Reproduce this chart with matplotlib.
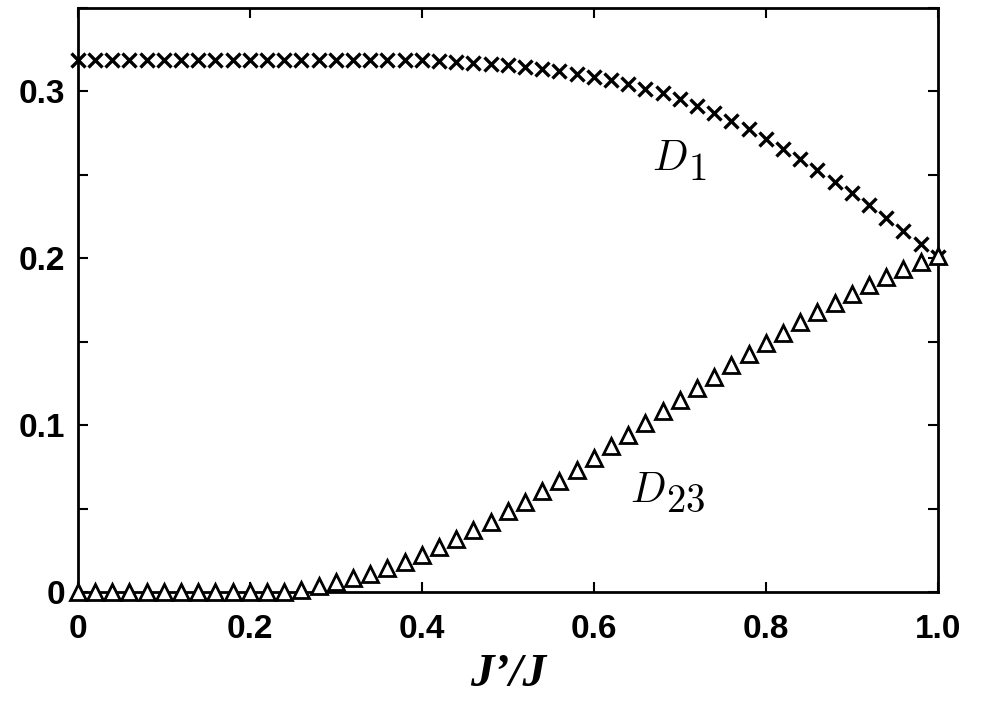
import matplotlib
matplotlib.use('Agg')
import matplotlib.pyplot as plt
from matplotlib.ticker import MultipleLocator

plt.rcParams['mathtext.fontset'] = 'cm'

# J'/J values
ratio = [i / 50 for i in range(51)]

d1 = [0.3190, 0.3190, 0.3190, 0.3190, 0.3190, 0.3190, 0.3190, 0.3190, 0.3190, 0.3190,
      0.3190, 0.3190, 0.3190, 0.3190, 0.3190, 0.3190, 0.3190, 0.3189, 0.3188, 0.3187,
      0.3185, 0.3182, 0.3178, 0.3172, 0.3165, 0.3157, 0.3147, 0.3135, 0.3121, 0.3105,
      0.3087, 0.3066, 0.3043, 0.3017, 0.2988, 0.2953, 0.2912, 0.2868, 0.2822, 0.2775,
      0.2715, 0.2655, 0.2593, 0.2528, 0.2460, 0.2390, 0.2317, 0.2242, 0.2165, 0.2086,
      0.2010]

d23 = [0.0, 0.0, 0.0, 0.0, 0.0, 0.0, 0.0, 0.0, 0.0, 0.0,
       0.0, 0.0, 0.0, 0.0012, 0.0035, 0.0062, 0.0088, 0.0112, 0.0146, 0.0180,
       0.0222, 0.0270, 0.0320, 0.0370, 0.0422, 0.0487, 0.0543, 0.0605, 0.0667, 0.0735,
       0.0806, 0.0875, 0.0943, 0.1011, 0.1083, 0.1151, 0.1223, 0.1290, 0.1359, 0.1428,
       0.1492, 0.1554, 0.1618, 0.1678, 0.1734, 0.1788, 0.1838, 0.1888, 0.1934, 0.1978,
       0.2014]

xticks = [0, 0.2, 0.4, 0.6, 0.8, 1.0]
xticklabels = ['0', '0.2', '0.4', '0.6', '0.8', '1.0']
yticks = [0, 0.1, 0.2, 0.3]
yticklabels = ['0', '0.1', '0.2', '0.3']

fig = plt.figure(figsize=(9.85, 7.17), dpi=100)
ax = fig.add_axes([0.079, 0.174, 0.873, 0.815])

ax.plot(ratio, d1, linestyle='none', marker='x', color='black', markersize=10,
        markeredgewidth=2.4, clip_on=False, zorder=3)
ax.plot(ratio, d23, linestyle='none', marker='^', markerfacecolor='white',
        markeredgecolor='black', markersize=11.5, markeredgewidth=2.0,
        clip_on=False, zorder=4)

ax.set_xlim(0, 1.0)
ax.set_ylim(0, 0.35)

ax.set_xticks(xticks)
ax.set_xticklabels(xticklabels, fontfamily='Liberation Sans', fontweight='bold', fontsize=24)
ax.set_yticks(yticks)
ax.set_yticklabels(yticklabels, fontfamily='Liberation Sans', fontweight='bold', fontsize=24)
ax.yaxis.set_minor_locator(MultipleLocator(0.05))

ax.tick_params(which='both', direction='in', top=True, right=True,
               length=7, width=1.5)
ax.tick_params(axis='x', pad=16)
ax.tick_params(axis='y', pad=9)
for s in ax.spines.values():
    s.set_linewidth(2)

ax.set_xlabel('J’/J', fontfamily='Liberation Serif', fontstyle='italic',
              fontweight='bold', fontsize=34, labelpad=6)


def curve_label(x, y, sub):
    # big D with an oversized subscript, as in the original
    ax.text(x, y, r'$D$', fontsize=30, ha='left', va='baseline')
    ax.annotate(r'$\mathrm{' + sub + '}$', xy=(x, y), xytext=(26, -7),
                textcoords='offset points', fontsize=28, ha='left', va='baseline')


curve_label(0.668, 0.2529, '1')
curve_label(0.642, 0.0539, '23')

fig.savefig('out.png', dpi=100)
